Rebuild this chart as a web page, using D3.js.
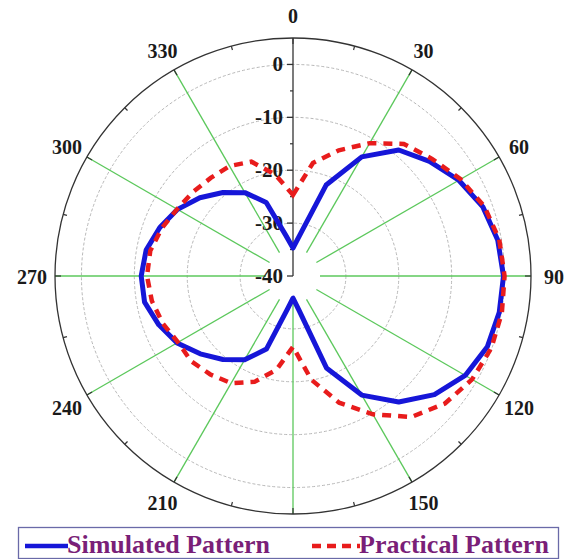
<!DOCTYPE html>
<html>
<head>
<meta charset="utf-8">
<script src="https://cdn.jsdelivr.net/npm/d3@7"></script>
<style>
  html, body { margin: 0; padding: 0; background: #fff; }
  svg { display: block; }
</style>
</head>
<body>
<svg id="chart" width="566" height="559"></svg>
<script>
// Azimuth angles in degrees (0 at top, clockwise)
const angles = [0, 10, 20, 30, 40, 50, 60, 70, 80, 90, 100, 110, 120, 130, 140, 150, 160, 170,
                180, 190, 200, 210, 220, 230, 240, 250, 260, 270, 280, 290, 300, 310, 320, 330, 340, 350];

// Radiation pattern gain in dB
const simulated = [-34.7, -31.9, -21.7, -14.0, -8.9, -6.3, -3.8, -1.8, -0.7, -0.2, -0.4, -0.9, -2.4, -5.1, -8.9, -14.0, -21.5, -33.4,
                   -35.8, -33.5, -25.3, -21.7, -19.4, -17.1, -14.7, -13.0, -11.5, -11.3, -11.8, -13.2, -14.8, -17.0, -19.4, -21.8, -25.2, -32.2];
const practical = [-24.7, -18.3, -14.7, -11.0, -7.4, -5.6, -3.4, -1.5, -0.4, 0.0, 0.1, -0.1, -0.9, -2.5, -5.2, -9.8, -14.5, -20.1,
                   -26.6, -22.0, -18.7, -16.6, -15.7, -14.9, -14.9, -13.8, -12.9, -12.4, -12.6, -13.6, -14.7, -15.3, -15.8, -16.0, -17.0, -20.5];

// Axis ticks
const radialTicks = [0, -10, -20, -30, -40];
const gridRings = [0, -10, -20, -30];
const angleTicks = [0, 30, 60, 90, 120, 150, 180, 210, 240, 270, 300, 330];
const angleLabels = ["0", "30", "60", "90", "120", "150", "", "210", "240", "270", "300", "330"];
const seriesNames = ["Simulated Pattern", "Practical Pattern"];

const cx = 293, cy = 276;
const svg = d3.select("#chart");
const g = svg.append("g").attr("transform", `translate(${cx},${cy})`);

const r = d3.scaleLinear().domain([-40, 5]).range([0, 238]);
const outerR = r(5);
const innerSpoke = 27;
const rad = d => d * Math.PI / 180;
const font = "'Liberation Serif', 'Times New Roman', serif";

// Gain rings
g.selectAll("circle.ring").data(gridRings).join("circle")
  .attr("class", "ring")
  .attr("r", d => r(d))
  .attr("fill", "none")
  .attr("stroke", "#b8b8b8")
  .attr("stroke-width", 1)
  .attr("stroke-dasharray", "3,2");

// Angle spokes (0° is the gain axis itself)
g.selectAll("line.spoke").data(angleTicks.filter(a => a !== 0)).join("line")
  .attr("class", "spoke")
  .attr("x1", a => innerSpoke * Math.sin(rad(a)))
  .attr("y1", a => -innerSpoke * Math.cos(rad(a)))
  .attr("x2", a => outerR * Math.sin(rad(a)))
  .attr("y2", a => -outerR * Math.cos(rad(a)))
  .attr("stroke", "#5cc85c")
  .attr("stroke-width", 1.3);

// Outer boundary
g.append("circle")
  .attr("r", outerR)
  .attr("fill", "none")
  .attr("stroke", "#333")
  .attr("stroke-width", 1.3);

// Angular ticks on the boundary (major every 30°, minor every 15°)
const allAngleTicks = d3.range(0, 360, 15);
g.selectAll("line.atick").data(allAngleTicks).join("line")
  .attr("class", "atick")
  .attr("x1", a => outerR * Math.sin(rad(a)))
  .attr("y1", a => -outerR * Math.cos(rad(a)))
  .attr("x2", a => (outerR - (a % 30 === 0 ? 6 : 4)) * Math.sin(rad(a)))
  .attr("y2", a => -(outerR - (a % 30 === 0 ? 6 : 4)) * Math.cos(rad(a)))
  .attr("stroke", "#333")
  .attr("stroke-width", 1.2);

// Angle labels
g.selectAll("text.alabel").data(angleTicks).join("text")
  .attr("class", "alabel")
  .attr("x", a => 261 * Math.sin(rad(a)))
  .attr("y", a => -261 * Math.cos(rad(a)) + 1)
  .attr("text-anchor", "middle")
  .attr("dominant-baseline", "central")
  .attr("font-family", font)
  .attr("font-weight", "bold")
  .attr("font-size", 20)
  .attr("fill", "#1a1a1a")
  .text((a, i) => angleLabels[i]);

// Gain axis along 0°
g.append("line")
  .attr("x1", 0).attr("y1", 0)
  .attr("x2", 0).attr("y2", -outerR)
  .attr("stroke", "#333")
  .attr("stroke-width", 1.3);
const minorR = d3.range(-35, 5, 10);
g.selectAll("line.rminor").data(minorR).join("line")
  .attr("class", "rminor")
  .attr("x1", 0).attr("x2", -3)
  .attr("y1", d => -r(d)).attr("y2", d => -r(d))
  .attr("stroke", "#333").attr("stroke-width", 1.2);
g.selectAll("line.rmajor").data(radialTicks).join("line")
  .attr("class", "rmajor")
  .attr("x1", 0).attr("x2", -6)
  .attr("y1", d => -r(d)).attr("y2", d => -r(d))
  .attr("stroke", "#333").attr("stroke-width", 1.3);
g.selectAll("text.rlabel").data(radialTicks).join("text")
  .attr("class", "rlabel")
  .attr("x", -10)
  .attr("y", d => -r(d))
  .attr("text-anchor", "end")
  .attr("dominant-baseline", "central")
  .attr("font-family", font)
  .attr("font-weight", "bold")
  .attr("font-size", 21)
  .attr("fill", "#1a1a1a")
  .text(d => d);

// Pattern curves
const line = d3.lineRadial()
  .angle(d => rad(d[0]))
  .radius(d => r(d[1]))
  .curve(d3.curveLinearClosed);

const simData = angles.map((a, i) => [a, simulated[i]]);
const pracData = angles.map((a, i) => [a, practical[i]]);

g.append("path")
  .attr("d", line(simData))
  .attr("fill", "none")
  .attr("stroke", "#1616d8")
  .attr("stroke-width", 5)
  .attr("stroke-linejoin", "round");

g.append("path")
  .attr("d", line(pracData))
  .attr("fill", "none")
  .attr("stroke", "#e81c1c")
  .attr("stroke-width", 4.5)
  .attr("stroke-dasharray", "9,7");

// Legend
const legend = svg.append("g");
legend.append("rect")
  .attr("x", 18.5).attr("y", 527.5)
  .attr("width", 540).attr("height", 31)
  .attr("fill", "#fff")
  .attr("stroke", "#6a6aa8")
  .attr("stroke-width", 1.3);
legend.append("line")
  .attr("x1", 25).attr("x2", 68).attr("y1", 546).attr("y2", 546)
  .attr("stroke", "#1616d8").attr("stroke-width", 4.5);
legend.append("text")
  .attr("x", 67).attr("y", 553)
  .attr("font-family", font).attr("font-weight", "bold").attr("font-size", 26)
  .attr("fill", "#7a1f78")
  .text(seriesNames[0]);
legend.append("line")
  .attr("x1", 312).attr("x2", 360).attr("y1", 546).attr("y2", 546)
  .attr("stroke", "#e81c1c").attr("stroke-width", 4.5)
  .attr("stroke-dasharray", "9,6");
legend.append("text")
  .attr("x", 359).attr("y", 553)
  .attr("font-family", font).attr("font-weight", "bold").attr("font-size", 26)
  .attr("fill", "#7a1f78")
  .text(seriesNames[1]);
</script>
</body>
</html>
